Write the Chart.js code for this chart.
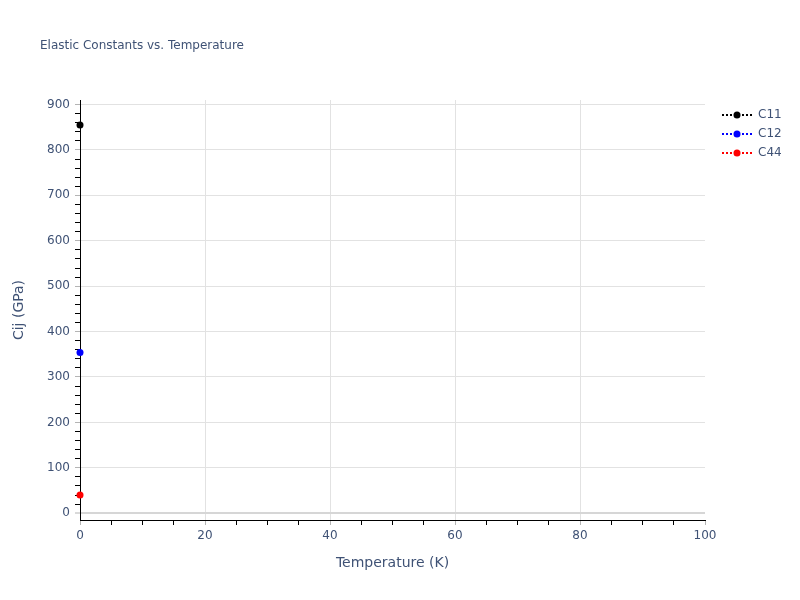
<!DOCTYPE html>
<html>
<head>
<meta charset="utf-8">
<script src="https://cdn.jsdelivr.net/npm/chart.js@4.4.1/dist/chart.umd.min.js"></script>
<style>
  html, body { margin: 0; padding: 0; background: #ffffff; }
  #wrap { width: 800px; height: 600px; }
</style>
</head>
<body>
<div id="wrap"><canvas id="c" width="800" height="600"></canvas></div>
<script>
// ---- data ----
const temperatures = [0];
const c11Values = [855];
const c12Values = [354];
const c44Values = [40];
const seriesNames = ['C11', 'C12', 'C44'];
const seriesColors = ['#000000', '#0000ff', '#ff0000'];
const chartTitle = 'Elastic Constants vs. Temperature';
const xTitle = 'Temperature (K)';
const yTitle = 'Cij (GPa)';

const TEXT = '#3f5275';
const GRID = '#e2e2e2';
const MAJOR_TICK = '#b4b4b4';

Chart.defaults.font.family = "'DejaVu Sans', Verdana, sans-serif";
Chart.defaults.color = TEXT;

function legendSymbol(color) {
  const cv = document.createElement('canvas');
  cv.width = 40; cv.height = 10;
  const g = cv.getContext('2d');
  g.strokeStyle = color;
  g.lineWidth = 2;
  g.setLineDash([2, 2]);
  g.beginPath();
  g.moveTo(10, 5); g.lineTo(40, 5);
  g.stroke();
  g.setLineDash([]);
  g.fillStyle = color;
  g.beginPath();
  g.arc(25, 5, 3.5, 0, Math.PI * 2);
  g.fill();
  return cv;
}

const seriesValues = [c11Values, c12Values, c44Values];
const datasets = seriesNames.map((name, i) => ({
  label: name,
  data: temperatures.map((t, k) => ({ x: t, y: seriesValues[i][k] })),
  borderColor: seriesColors[i],
  backgroundColor: seriesColors[i],
  pointBackgroundColor: seriesColors[i],
  pointBorderWidth: 0,
  pointRadius: 3.5,
  borderWidth: 2,
  borderDash: [2, 2],
  showLine: true,
  clip: false
}));

const titleShift = {
  id: 'titleShift',
  afterLayout(chart) {
    if (chart.titleBlock) chart.titleBlock.left = 40;
  }
};

new Chart(document.getElementById('c'), {
  type: 'scatter',
  data: { datasets },
  plugins: [titleShift],
  options: {
    responsive: false,
    animation: false,
    devicePixelRatio: 1,
    layout: { padding: { left: 0, right: 15, top: 0, bottom: 0 } },
    plugins: {
      tooltip: { enabled: false },
      title: {
        display: true,
        text: chartTitle,
        align: 'start',
        color: TEXT,
        font: { size: 12, weight: 'normal' },
        padding: { top: 39, bottom: 46.6 }
      },
      legend: {
        display: true,
        position: 'right',
        align: 'start',
        fullSize: false,
        maxWidth: 80,
        title: {
          display: true,
          text: '',
          font: { size: 1, lineHeight: 1 },
          padding: { top: 1, bottom: 0 }
        },
        labels: {
          usePointStyle: true,
          pointStyleWidth: 40,
          padding: 7,
          color: TEXT,
          font: { size: 12 },
          generateLabels(chart) {
            return chart.data.datasets.map((ds, i) => ({
              text: ds.label,
              pointStyle: legendSymbol(ds.borderColor),
              fillStyle: ds.borderColor,
              strokeStyle: ds.borderColor,
              fontColor: TEXT,
              lineWidth: 0,
              hidden: false,
              datasetIndex: i
            }));
          }
        }
      }
    },
    scales: {
      x: {
        type: 'linear',
        min: 0,
        max: 100,
        afterFit(scale) { scale.height = 80; },
        ticks: {
          stepSize: 5,
          includeBounds: false,
          autoSkip: false,
          maxRotation: 0,
          padding: 4,
          color: TEXT,
          font: { size: 12 },
          callback: v => (v % 20 === 0 ? String(v) : '')
        },
        grid: {
          drawTicks: true,
          tickLength: 5,
          color: ctx => {
            const v = ctx.tick ? ctx.tick.value : null;
            return (v !== null && v % 20 === 0 && v > 0 && v < 100) ? GRID : 'rgba(0,0,0,0)';
          },
          lineWidth: 1,
          tickColor: ctx => (ctx.tick && ctx.tick.value % 20 === 0 ? MAJOR_TICK : '#000000'),
          tickWidth: 1
        },
        border: { display: true, color: '#000000', width: 1 },
        title: {
          display: true,
          text: xTitle,
          color: TEXT,
          font: { size: 14 },
          padding: { top: 0, bottom: 28 }
        }
      },
      y: {
        type: 'linear',
        min: -15,
        max: 910,
        afterFit(scale) { scale.width = 80; },
        afterBuildTicks(scale) {
          scale.ticks = scale.ticks.filter(t => t.value >= 0 && t.value <= 900 && t.value % 20 === 0);
        },
        ticks: {
          stepSize: 20,
          includeBounds: false,
          autoSkip: false,
          padding: 5,
          color: TEXT,
          font: { size: 12 },
          callback: v => (v % 100 === 0 ? String(v) : '')
        },
        grid: {
          drawTicks: true,
          tickLength: 5,
          color: ctx => {
            const v = ctx.tick ? ctx.tick.value : null;
            if (v === 0) return '#d6d6d6';
            return (v !== null && v % 100 === 0) ? GRID : 'rgba(0,0,0,0)';
          },
          lineWidth: ctx => (ctx.tick && ctx.tick.value === 0 ? 2 : 1),
          tickColor: ctx => (ctx.tick && ctx.tick.value % 100 === 0 ? MAJOR_TICK : '#000000'),
          tickWidth: 1
        },
        border: { display: true, color: '#000000', width: 1 },
        title: {
          display: true,
          text: yTitle,
          color: TEXT,
          font: { size: 14 },
          padding: { top: 11, bottom: 0 }
        }
      }
    }
  }
});
</script>
</body>
</html>
